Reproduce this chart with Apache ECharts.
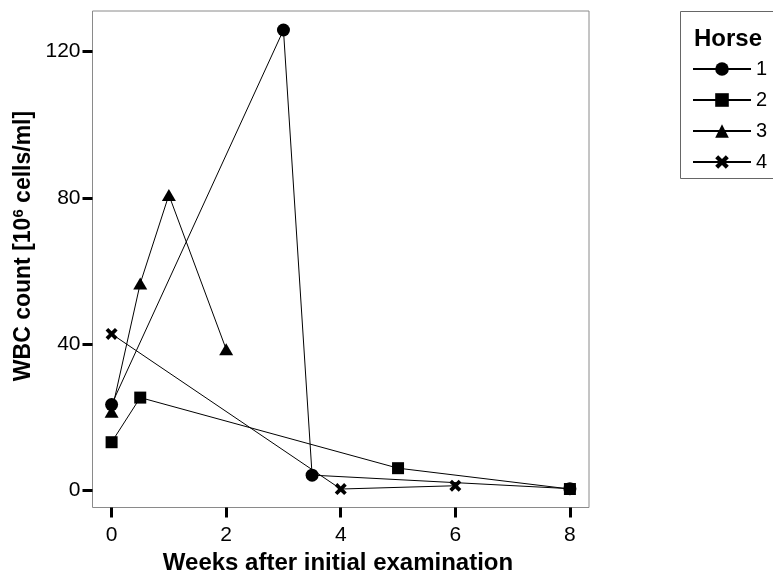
<!DOCTYPE html>
<html>
<head>
<meta charset="utf-8">
<title>WBC count by horse</title>
<script src="https://cdn.jsdelivr.net/npm/echarts@6/dist/echarts.min.js"></script>
<style>
  html, body { margin: 0; padding: 0; background: #fff; }
  #chart { width: 773px; height: 587px; }
</style>
</head>
<body>
<div id="chart"></div>
<script>
// Weeks after the initial examination, and WBC counts (10^6 cells/ml) per horse
const horse1Weeks = [0, 3, 3.5, 8];
const horse1Wbc   = [23.5, 125.9, 4.2, 0.5];
const horse2Weeks = [0, 0.5, 5, 8];
const horse2Wbc   = [13.2, 25.4, 6.1, 0.4];
const horse3Weeks = [0, 0.5, 1, 2];
const horse3Wbc   = [21.5, 56.6, 80.8, 38.6];
const horse4Weeks = [0, 4, 6];
const horse4Wbc   = [42.8, 0.4, 1.3];

const horseNames = ['1', '2', '3', '4'];
const xTicks = [0, 2, 4, 6, 8];
const yTicks = [0, 40, 80, 120];

const FONT = '"Liberation Sans", Arial, Helvetica, sans-serif';
// thick "x" marker
const crossPath = 'path://M0,2.2 L2.2,0 L5,2.8 L7.8,0 L10,2.2 L7.2,5 L10,7.8 L7.8,10 L5,7.2 L2.2,10 L0,7.8 L2.8,5 Z';

function pairs(xs, ys) { return xs.map((x, i) => [x, ys[i]]); }

function horseSeries(name, xs, ys, symbol, size) {
  return {
    name: name,
    type: 'line',
    data: pairs(xs, ys),
    symbol: symbol,
    symbolSize: size,
    showAllSymbol: true,
    lineStyle: { color: '#000', width: 1 },
    itemStyle: { color: '#000', borderWidth: 0 },
    emphasis: { disabled: true },
    animation: false
  };
}

const tickStyle = { color: '#000', width: 3 };

const chart = echarts.init(document.getElementById('chart'), null, { renderer: 'canvas' });
chart.setOption({
  backgroundColor: '#fff',
  animation: false,
  grid: {
    left: 92.5, top: 11, right: 184, bottom: 79.5,
    show: true, borderColor: '#8a8a8a', borderWidth: 1, backgroundColor: 'transparent'
  },
  xAxis: {
    type: 'value',
    min: -1 / 3, max: 8 + 1 / 3,
    axisLine: { show: false, onZero: false },
    splitLine: { show: false },
    axisTick: { show: true, customValues: xTicks, length: 10, inside: false, lineStyle: tickStyle },
    axisLabel: { customValues: xTicks, fontSize: 21, color: '#000', fontFamily: FONT, margin: 17 }
  },
  yAxis: {
    type: 'value',
    min: -4.65, max: 131.1,
    axisLine: { show: false, onZero: false },
    splitLine: { show: false },
    axisTick: { show: true, customValues: yTicks, length: 10, inside: false, lineStyle: tickStyle },
    axisLabel: { customValues: yTicks, fontSize: 21, color: '#000', fontFamily: FONT, margin: 12 }
  },
  legend: {
    orient: 'vertical',
    left: 692, top: 59,
    padding: 0,
    itemWidth: 58, itemHeight: 17, itemGap: 11,
    selectedMode: false,
    data: horseNames,
    textStyle: { fontSize: 20, lineHeight: 20, color: '#000', fontFamily: FONT }
  },
  graphic: [
    { type: 'rect', shape: { x: 680.5, y: 11.5, width: 120, height: 167 }, silent: true,
      style: { fill: 'none', stroke: '#666', lineWidth: 1 } },
    { type: 'text', x: 694, y: 39, silent: true,
      style: { text: 'Horse', fontSize: 24, fontWeight: 'bold', fontFamily: FONT, fill: '#000',
               textAlign: 'left', textVerticalAlign: 'middle' } },
    { type: 'text', x: 338, y: 563, silent: true,
      style: { text: 'Weeks after initial examination', fontSize: 24, fontWeight: 'bold',
               fontFamily: FONT, fill: '#000', textAlign: 'center', textVerticalAlign: 'middle' } },
    { type: 'text', x: 24, y: 246, rotation: Math.PI / 2, silent: true,
      style: { text: 'WBC count [10{sup|6} cells/ml]', fontSize: 23, fontWeight: 'bold',
               fontFamily: FONT, fill: '#000', textAlign: 'center', textVerticalAlign: 'middle',
               rich: { sup: { fontSize: 15, fontWeight: 'bold', fontFamily: FONT, fill: '#000',
                              verticalAlign: 'top', padding: [0, 0, 10, 0] } } } }
  ],
  series: [
    horseSeries('1', horse1Weeks, horse1Wbc, 'circle', 13),
    horseSeries('2', horse2Weeks, horse2Wbc, 'rect', 12),
    horseSeries('3', horse3Weeks, horse3Wbc, 'triangle', [14, 12]),
    horseSeries('4', horse4Weeks, horse4Wbc, crossPath, 12)
  ]
});
</script>
</body>
</html>
